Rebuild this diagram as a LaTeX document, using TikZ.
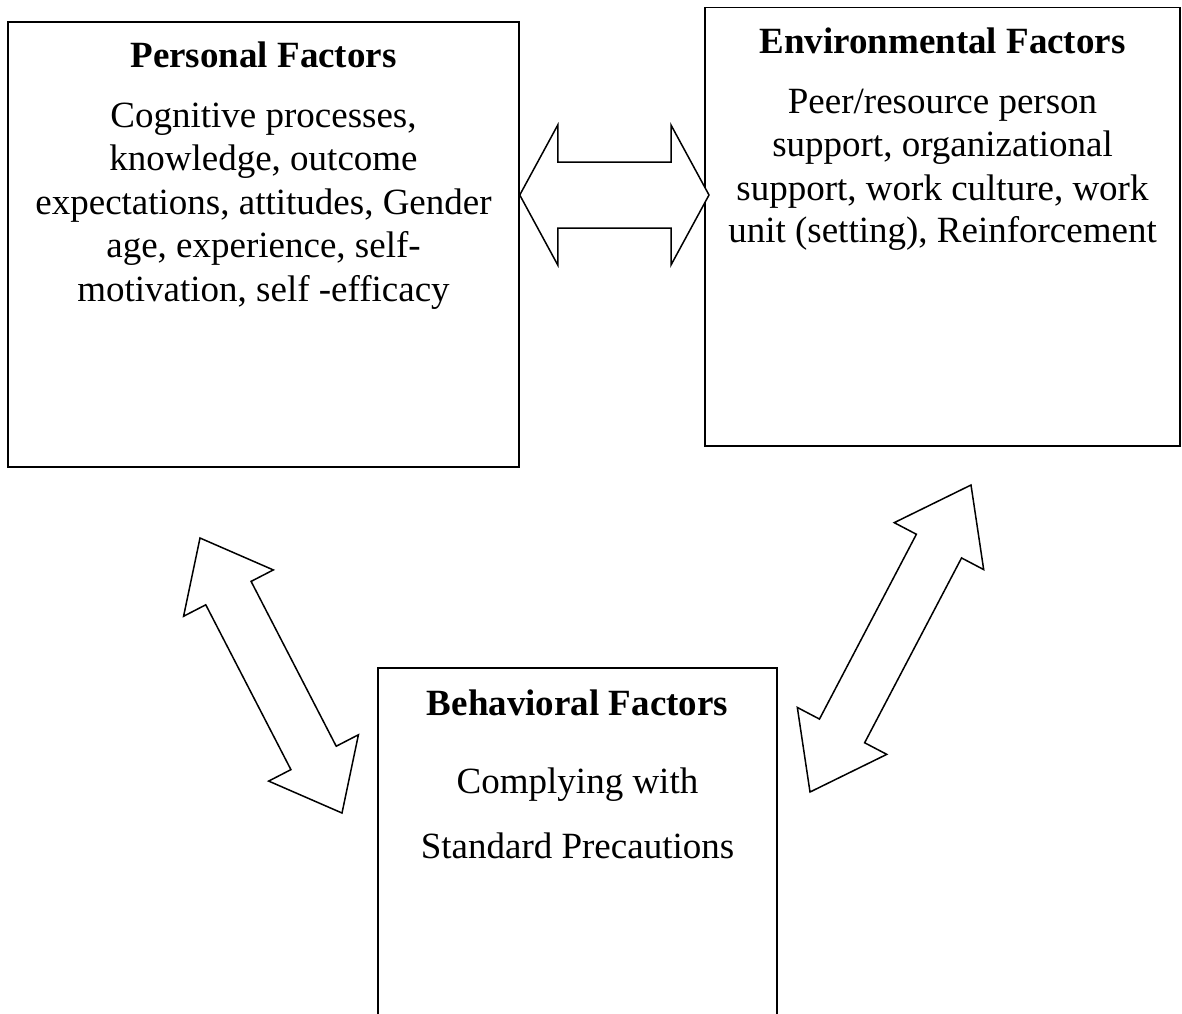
\documentclass[tikz,border=0pt]{standalone}
\usepackage{fontspec}
\setmainfont{Liberation Serif}
\usetikzlibrary{calc}

\tikzset{
  factorbox/.style={draw, rectangle, line width=1.5pt, inner sep=0pt},
  txt/.style={anchor=base, inner sep=0pt, font=\fontsize{37}{43}\selectfont},
  ttl/.style={anchor=base, inner sep=0pt, font=\fontsize{37}{43}\selectfont\bfseries},
  barrow/.style={draw, line width=1.5pt, fill=white, line join=miter},
}

% Double-headed block arrow between two named tips:
% #1, #2 tips, #3 head length, #4 head half width, #5 shaft half width
\newcommand{\blockarrow}[5]{%
  \coordinate (#1h) at ($(#1)!#3!(#2)$);
  \coordinate (#2h) at ($(#2)!#3!(#1)$);
  \draw[barrow] (#1)
    -- ($(#1h)!#4!90:(#2)$)
    -- ($(#1h)!#5!90:(#2)$)
    -- ($(#2h)!#5!-90:(#1)$)
    -- ($(#2h)!#4!-90:(#1)$)
    -- (#2)
    -- ($(#2h)!#4!90:(#1)$)
    -- ($(#2h)!#5!90:(#1)$)
    -- ($(#1h)!#5!-90:(#2)$)
    -- ($(#1h)!#4!-90:(#2)$)
    -- cycle;
}

\begin{document}
\begin{tikzpicture}[x=1pt, y=-1pt]
  \path[use as bounding box] (0,0) rectangle (1182,1013);
  \clip (0,0) rectangle (1182,1013);

  % Boxes
  \node[factorbox, minimum width=511pt, minimum height=445pt] (personal) at (263.5,244.5) {};
  \node[factorbox, minimum width=475pt, minimum height=438.7pt] (env) at (942.5,226.65) {};
  \node[factorbox, minimum width=399pt, minimum height=362pt] (behav) at (577.5,849) {};

  % Personal factors
  \node[ttl] (pt) at (263.5,67.6) {Personal Factors};
  \node[txt] (p1) at (263.5,127) {Cognitive processes,};
  \node[txt] (p2) at (263.5,170.5) {knowledge, outcome};
  \node[txt] (p3) at (263.5,214) {expectations, attitudes, Gender};
  \node[txt] (p4) at (263.5,257.5) {age, experience, self-};
  \node[txt] (p5) at (263.5,301) {motivation, self -efficacy};

  % Environmental factors
  \node[ttl] (et) at (942.5,53.3) {Environmental Factors};
  \node[txt] (e1) at (942.5,113.3) {Peer/resource person};
  \node[txt] (e2) at (942.5,156.7) {support, organizational};
  \node[txt] (e3) at (942.5,200) {support, work culture, work};
  \node[txt] (e4) at (942.5,242.7) {unit (setting), Reinforcement};

  % Behavioral factors
  \node[ttl] (bt) at (577.5,715) {Behavioral Factors};
  \node[txt] (b1) at (577.5,793.3) {Complying with};
  \node[txt] (b2) at (577.5,858.3) {Standard Precautions};

  % Arrow tips
  \coordinate (pe1) at (personal.east |- 0,195);
  \coordinate (pe2) at (709,195);
  \coordinate (pb1) at (200,538);
  \coordinate (pb2) at (342,813);
  \coordinate (eb1) at (971,485);
  \coordinate (eb2) at (810,792);

  % Reciprocal influences
  \blockarrow{pe1}{pe2}{38pt}{70pt}{33pt}
  \blockarrow{pb1}{pb2}{62pt}{50.5pt}{25.5pt}
  \blockarrow{eb1}{eb2}{69pt}{50.5pt}{25.5pt}
\end{tikzpicture}
\end{document}
